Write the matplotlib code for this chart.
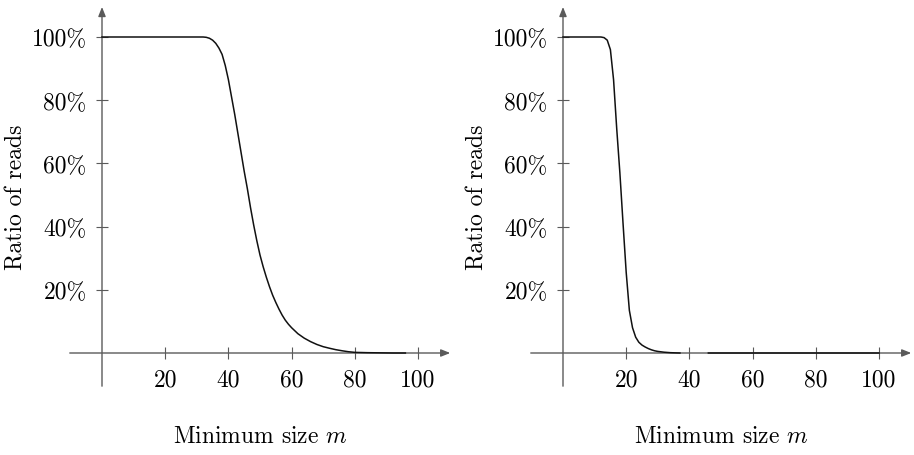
import numpy as np
import matplotlib
matplotlib.use("Agg")
import matplotlib.pyplot as plt

plt.rcParams["font.family"] = "serif"
plt.rcParams["font.serif"] = ["cmr10"]
plt.rcParams["mathtext.fontset"] = "cm"
plt.rcParams["axes.formatter.use_mathtext"] = True

# Left panel: share of reads kept as a function of the minimum size m
m_left = [0, 10, 20, 30, 32, 33, 34, 35, 36, 37, 38, 39, 40, 41, 42, 43, 44, 45,
          46, 47, 48, 49, 50, 51, 52, 53, 54, 55, 56, 57, 58, 59, 60, 62, 64, 66,
          68, 70, 72, 74, 76, 78, 80, 84, 88, 92, 96]
ratio_left = [100, 100, 100, 100, 100, 99.9, 99.6, 99.0, 98.0, 96.5, 94.5, 91.0,
              86.5, 81.0, 75.5, 69.5, 63.5, 57.5, 52.0, 46.0, 40.5, 35.5, 31.0,
              27.3, 24.0, 21.0, 18.3, 16.0, 13.9, 12.0, 10.4, 9.1, 8.0, 6.1, 4.7,
              3.6, 2.7, 2.0, 1.5, 1.05, 0.7, 0.4, 0.2, 0.1, 0.05, 0.0, 0.0]

# Right panel: same quantity for the second data set (no values between 37 and 46)
m_right = [0, 5, 10, 12, 13, 14, 15, 16, 17, 18, 19, 20, 21, 22, 23, 24, 25, 26,
           27, 28, 29, 30, 32, 34, 36, 37, 40, 46, 50, 60, 70, 80, 90, 100]
ratio_right = [100, 100, 100, 100, 99.8, 99.0, 96.0, 86.5, 71.0, 57.0, 41.0, 25.5,
               13.5, 8.0, 5.0, 3.4, 2.5, 1.9, 1.4, 1.0, 0.7, 0.5, 0.25, 0.1, 0.03,
               0.0, np.nan, 0.0, 0.0, 0.0, 0.0, 0.0, 0.0, 0.0]

x_ticks = [20, 40, 60, 80, 100]
x_tick_labels = ["20", "40", "60", "80", "100"]
y_ticks = [20, 40, 60, 80, 100]
y_tick_labels = ["20%", "40%", "60%", "80%", "100%"]

x_label = "Minimum size $m$"
y_label = "Ratio of reads"

W, H = 914, 456
fig = plt.figure(figsize=(W / 100, H / 100), dpi=100)

scale = 3.16          # pixels per data unit
xlim = (-10.2, 110.2)
ylim = (-10.5, 109.5)
zero_y_px = 354       # pixel row of the horizontal axis (from top)

axis_color = "#5a5a5a"
font_size = 17


def make_panel(origin_x_px, m, ratio, ylabel_x_px):
    left_px = origin_x_px + scale * xlim[0]
    width_px = scale * (xlim[1] - xlim[0])
    top_px = zero_y_px - scale * ylim[1]
    height_px = scale * (ylim[1] - ylim[0])
    ax = fig.add_axes([left_px / W, 1 - (top_px + height_px) / H,
                       width_px / W, height_px / H])
    ax.set_xlim(*xlim)
    ax.set_ylim(*ylim)
    for side in ax.spines.values():
        side.set_visible(False)
    ax.spines["left"].set_position(("data", 0))
    ax.spines["bottom"].set_position(("data", 0))

    arrow = dict(arrowstyle="-|>,head_length=0.55,head_width=0.22",
                 color=axis_color, lw=1.0, shrinkA=0, shrinkB=0)
    ax.annotate("", xy=(xlim[1], 0), xytext=(xlim[0], 0), arrowprops=arrow,
                annotation_clip=False)
    ax.annotate("", xy=(0, ylim[1]), xytext=(0, ylim[0]), arrowprops=arrow,
                annotation_clip=False)

    ax.plot(m, ratio, color="#111111", lw=1.1, clip_on=False, zorder=5,
            solid_joinstyle="round")

    ax.set_xticks(x_ticks)
    ax.set_xticklabels(x_tick_labels)
    ax.set_yticks(y_ticks)
    ax.set_yticklabels(y_tick_labels)
    ax.tick_params(direction="inout", length=8, width=0.8, color=axis_color,
                   labelsize=font_size, pad=7)

    cx = (origin_x_px + scale * 50) / W
    fig.text(cx, 1 - 437 / H, x_label, ha="center", va="center",
             fontsize=font_size)
    fig.text(ylabel_x_px / W, 1 - 197 / H, y_label, ha="center", va="center",
             rotation=90, fontsize=font_size)
    return ax


make_panel(102, m_left, ratio_left, 16)
make_panel(563, m_right, ratio_right, 477)

fig.savefig("out.png", dpi=100, facecolor="white")
